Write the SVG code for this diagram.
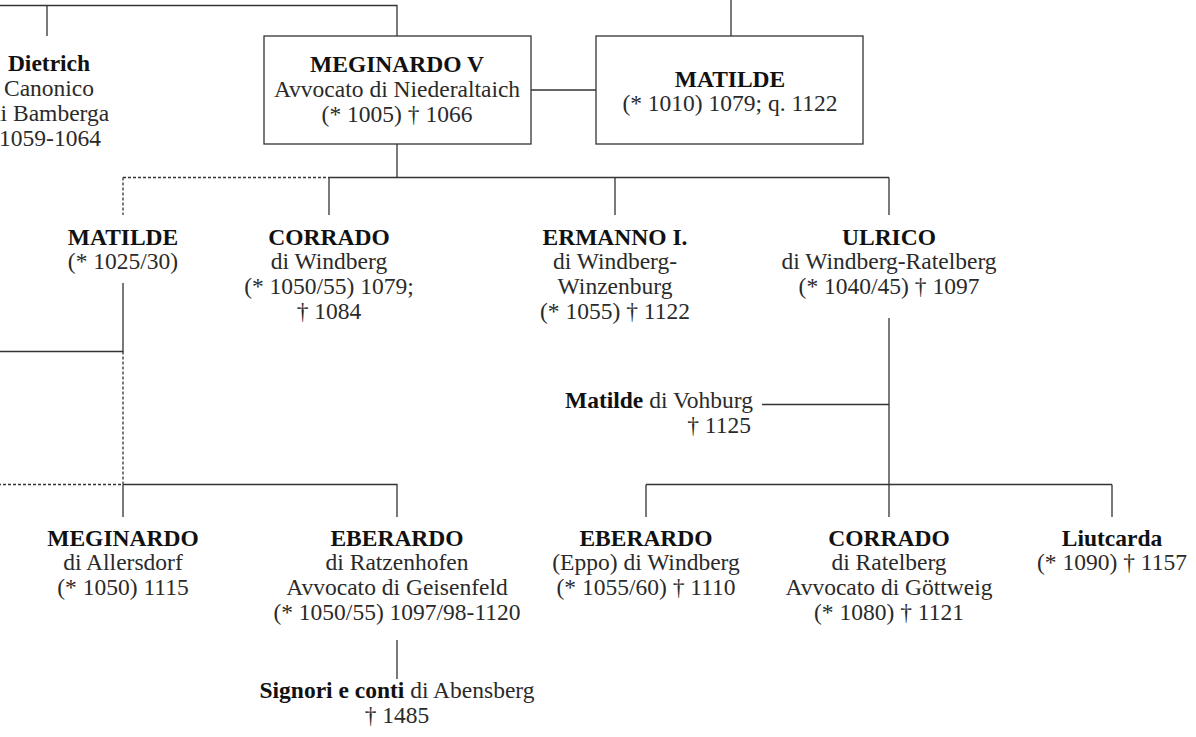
<svg xmlns="http://www.w3.org/2000/svg" width="1196" height="737" viewBox="0 0 1196 737">
<style>
text{font-family:"Liberation Serif","DejaVu Serif",serif;font-size:23.5px;fill:#2a2a2a;text-anchor:middle}
.b{font-weight:bold;fill:#111}
.e{text-anchor:end}
.ln{stroke:#333;stroke-width:1.3;fill:none}
.d{stroke-dasharray:3,2}
.box{fill:#fff;stroke:#333;stroke-width:1.3}
</style>
<rect width="1196" height="737" fill="#fff"/>
<g id="connectors">
<path class="ln" d="M0 5.5H397V36M47 5.5V36M731 0V36M531 90H596M397 144V177.5M329 177.5H889M329 177.5V215M615 177.5V215M889 177.5V215"/>
<path class="ln d" d="M123 177.5H329M123 177.5V215"/>
<path class="ln" d="M123 283V351.5H0"/>
<path class="ln d" d="M123 351.5V484.5H0"/>
<path class="ln" d="M123 484.5H397V517M123 484.5V517M397 640V679"/>
<path class="ln" d="M889 318V484.5M762 404.5H889M646 484.5H1112M646 484.5V517M889 484.5V517M1112 484.5V517"/>
</g>
<g id="dietrich">
<text x="49" y="71" class="b">Dietrich</text>
<text x="49" y="96">Canonico</text>
<text x="49" y="121">di Bamberga</text>
<text x="50" y="146">1059-1064</text>
</g>
<g id="meginardo-v">
<rect class="box" x="264" y="36" width="267" height="108"/>
<text x="397" y="72" class="b">MEGINARDO V</text>
<text x="397" y="97">Avvocato di Niederaltaich</text>
<text x="397" y="122">(* 1005) † 1066</text>
</g>
<g id="matilde-top">
<rect class="box" x="596" y="36" width="267" height="108"/>
<text x="730" y="87" class="b">MATILDE</text>
<text x="730" y="111">(* 1010) 1079; q. 1122</text>
</g>
<g id="matilde">
<text x="123" y="245" class="b">MATILDE</text>
<text x="123" y="269">(* 1025/30)</text>
</g>
<g id="corrado-windberg">
<text x="329" y="245" class="b">CORRADO</text>
<text x="329" y="269">di Windberg</text>
<text x="329" y="294">(* 1050/55) 1079;</text>
<text x="329" y="319">† 1084</text>
</g>
<g id="ermanno">
<text x="615" y="245" class="b">ERMANNO I.</text>
<text x="615" y="269">di Windberg-</text>
<text x="615" y="294">Winzenburg</text>
<text x="615" y="319">(* 1055) † 1122</text>
</g>
<g id="ulrico">
<text x="889" y="245" class="b">ULRICO</text>
<text x="889" y="269">di Windberg-Ratelberg</text>
<text x="889" y="294">(* 1040/45) † 1097</text>
</g>
<g id="matilde-vohburg">
<text x="753" y="408" class="e"><tspan class="b">Matilde</tspan> di Vohburg</text>
<text x="751" y="433" class="e">† 1125</text>
</g>
<g id="meginardo-allersdorf">
<text x="123" y="546" class="b">MEGINARDO</text>
<text x="123" y="570">di Allersdorf</text>
<text x="123" y="595">(* 1050) 1115</text>
</g>
<g id="eberardo-ratzenhofen">
<text x="397" y="546" class="b">EBERARDO</text>
<text x="397" y="570">di Ratzenhofen</text>
<text x="397" y="595">Avvocato di Geisenfeld</text>
<text x="397" y="620">(* 1050/55) 1097/98-1120</text>
</g>
<g id="abensberg">
<text x="397" y="698"><tspan class="b">Signori e conti</tspan> di Abensberg</text>
<text x="397" y="723">† 1485</text>
</g>
<g id="eberardo-windberg">
<text x="646" y="546" class="b">EBERARDO</text>
<text x="646" y="570">(Eppo) di Windberg</text>
<text x="646" y="595">(* 1055/60) † 1110</text>
</g>
<g id="corrado-ratelberg">
<text x="889" y="546" class="b">CORRADO</text>
<text x="889" y="570">di Ratelberg</text>
<text x="889" y="595">Avvocato di Göttweig</text>
<text x="889" y="620">(* 1080) † 1121</text>
</g>
<g id="liutcarda">
<text x="1112" y="546" class="b">Liutcarda</text>
<text x="1112" y="570">(* 1090) † 1157</text>
</g>
</svg>
